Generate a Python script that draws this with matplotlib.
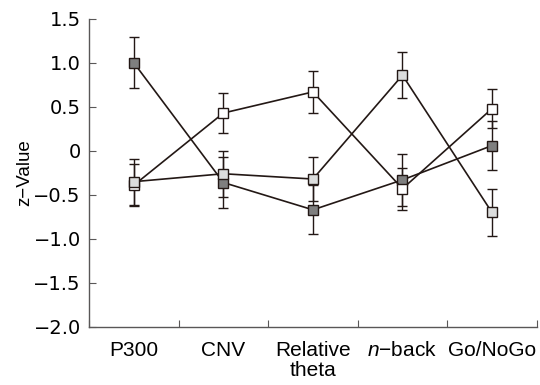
import matplotlib
matplotlib.use("Agg")
import matplotlib.pyplot as plt
import numpy as np

plt.rcParams["font.family"] = ["Liberation Sans", "DejaVu Sans"]
plt.rcParams["mathtext.fontset"] = "custom"
plt.rcParams["mathtext.it"] = "Liberation Sans:italic"
plt.rcParams["mathtext.rm"] = "Liberation Sans"

categories = ["P300", "CNV", "Relative\ntheta", "$n$\u2212back", "Go/NoGo"]

# three groups, values and standard errors
dark_vals = [1.00, -0.36, -0.67, -0.33, 0.06]
dark_err = [0.29, 0.29, 0.28, 0.30, 0.28]
light_vals = [-0.35, -0.26, -0.32, 0.86, -0.70]
light_err = [0.26, 0.26, 0.25, 0.26, 0.27]
white_vals = [-0.39, 0.43, 0.67, -0.43, 0.48]
white_err = [0.24, 0.23, 0.24, 0.24, 0.22]

yticks = [1.5, 1.0, 0.5, 0, -0.5, -1.0, -1.5, -2.0]
ytick_labels = ["1.5", "1.0", "0.5", "0", "\u22120.5", "\u22121.0", "\u22121.5", "\u22122.0"]

x = np.arange(len(categories)) + 0.5
edge = "#231815"
spine = "#595757"

fig = plt.figure(figsize=(5.4, 3.85), dpi=100)
ax = fig.add_axes([0.165, 0.151, 0.829, 0.80])

series = [
    (dark_vals, dark_err, "#7f7f7f", 3),
    (white_vals, white_err, "#ffffff", 4),
    (light_vals, light_err, "#dcdddd", 5),
]
for vals, err, fc, z in series:
    ax.errorbar(x, vals, yerr=err, fmt="none", ecolor=edge, elinewidth=1.0,
                capsize=3.6, capthick=1.0, zorder=2)
    ax.plot(x, vals, color=edge, lw=1.2, marker="s", markersize=7.5,
            markerfacecolor=fc, markeredgecolor=edge, markeredgewidth=1.0, zorder=z)

ax.set_xlim(0, 5)
ax.set_ylim(-2.0, 1.5)
ax.set_xticks(np.arange(0, 6))
ax.set_xticklabels([])
ax.set_xticks(x, minor=True)
ax.set_xticklabels(categories, minor=True, fontsize=15, linespacing=1.1)
ax.tick_params(axis="x", which="minor", length=0, pad=10)
ax.tick_params(axis="x", which="major", direction="in", length=5, color=spine)
ax.set_yticks(yticks)
ax.set_yticklabels(ytick_labels, fontsize=14, family="DejaVu Sans")
ax.tick_params(axis="y", direction="in", length=5, color=spine, pad=6)
ax.set_ylabel("z\u2212Value", fontsize=13.5, labelpad=0)

for s in ["top", "right"]:
    ax.spines[s].set_visible(False)
for s in ["left", "bottom"]:
    ax.spines[s].set_color(spine)
    ax.spines[s].set_linewidth(1.0)

fig.savefig("out.png", dpi=100)
